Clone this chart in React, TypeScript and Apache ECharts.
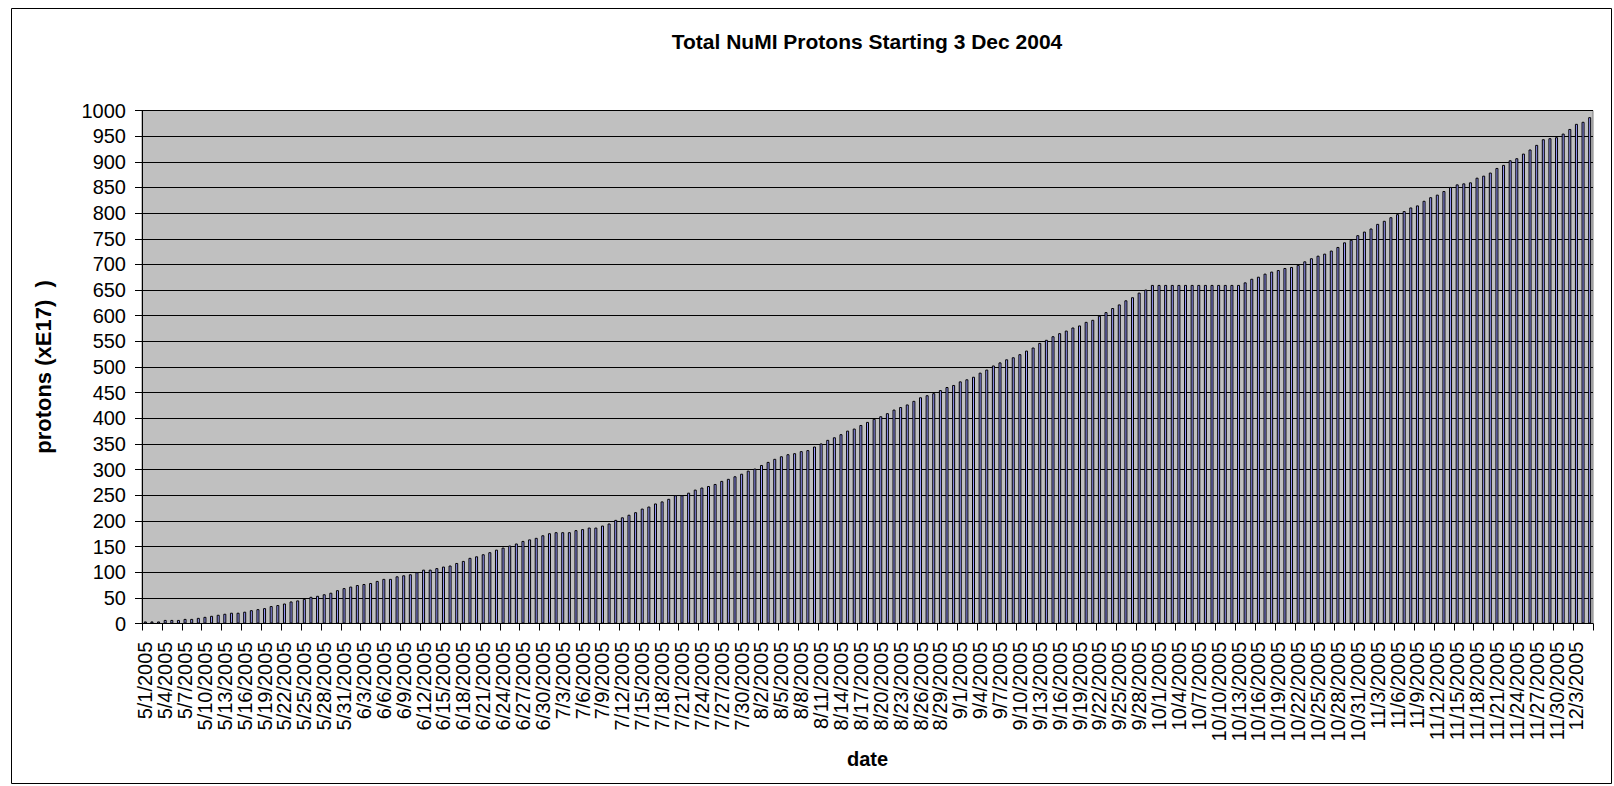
import React, { useEffect, useRef } from "react";
import * as echarts from "echarts";

const START_YEAR = 2005;
const START_MONTH = 5; // May
const START_DAY = 1;
const DAY_COUNT = 219;

const values: number[] = [
  4, 4, 4, 7, 7, 7, 9, 9, 11, 13,
  15, 17, 19, 21, 21, 23, 26, 28, 30, 34,
  36, 39, 43, 45, 48, 52, 54, 57, 60, 65,
  69, 72, 75, 77, 79, 83, 87, 87, 92, 94,
  96, 100, 105, 105, 108, 111, 113, 118, 122, 128,
  131, 135, 139, 144, 148, 152, 156, 161, 164, 167,
  172, 176, 178, 178, 178, 182, 184, 187, 187, 191,
  195, 202, 207, 212, 217, 224, 228, 234, 238, 243,
  250, 250, 255, 261, 265, 268, 272, 278, 282, 287,
  292, 298, 302, 309, 315, 321, 326, 330, 332, 336,
  338, 345, 351, 358, 363, 369, 376, 380, 387, 393,
  399, 404, 410, 417, 422, 427, 434, 441, 445, 449,
  455, 461, 465, 472, 476, 481, 489, 495, 503, 509,
  515, 519, 525, 532, 538, 547, 553, 560, 566, 571,
  577, 581, 588, 592, 600, 607, 615, 622, 630, 636,
  645, 651, 660, 660, 660, 660, 660, 660, 660, 660,
  660, 660, 660, 660, 660, 660, 665, 672, 676, 682,
  686, 689, 693, 695, 699, 706, 712, 717, 721, 727,
  734, 743, 748, 757, 764, 770, 779, 785, 792, 798,
  804, 811, 815, 824, 831, 836, 843, 851, 856, 858,
  860, 869, 873, 879, 888, 894, 903, 907, 916, 924,
  933, 944, 946, 948, 955, 964, 974, 978, 987,
];

function buildDates(): string[] {
  const out: string[] = [];
  const t0 = Date.UTC(START_YEAR, START_MONTH - 1, START_DAY);
  for (let i = 0; i < DAY_COUNT; i++) {
    const d = new Date(t0 + i * 86400000);
    out.push(`${d.getUTCMonth() + 1}/${d.getUTCDate()}/${d.getUTCFullYear()}`);
  }
  return out;
}

const dates = buildDates();

const TITLE = "Total NuMI Protons Starting 3 Dec 2004";
const Y_NAME = "protons (xE17)  )";
const X_NAME = "date";
const FONT = "'Liberation Sans', Arial, sans-serif";

export default function App() {
  const ref = useRef<HTMLDivElement>(null);

  useEffect(() => {
    document.body.style.margin = "0";
    if (!ref.current) return;
    const chart = echarts.init(ref.current, undefined, { renderer: "svg" });
    chart.setOption({
      animation: false,
      backgroundColor: "#ffffff",
      textStyle: { fontFamily: FONT },
      graphic: [
        {
          type: "rect",
          shape: { x: 11.5, y: 8.5, width: 1600, height: 775 },
          style: { fill: "none", stroke: "#000", lineWidth: 1 },
          silent: true,
        },
        {
          type: "text",
          x: 867,
          y: 41,
          style: {
            text: TITLE,
            fontFamily: FONT,
            fontSize: 21,
            fontWeight: "bold",
            fill: "#000",
            align: "center",
            verticalAlign: "middle",
          },
        },
      ],
      grid: {
        left: 142,
        top: 110.5,
        width: 1451,
        height: 513,
        show: true,
        backgroundColor: "#C0C0C0",
        borderColor: "#808080",
        borderWidth: 1,
        containLabel: false,
      },
      xAxis: {
        type: "category",
        data: dates,
        name: X_NAME,
        nameLocation: "middle",
        nameGap: 125,
        nameTextStyle: { fontFamily: FONT, fontSize: 20, fontWeight: "bold", color: "#000" },
        axisLine: { show: true, lineStyle: { color: "#000", width: 1 } },
        axisTick: { show: true, interval: 2, length: 7, lineStyle: { color: "#000" } },
        axisLabel: {
          interval: 2,
          rotate: 90,
          fontSize: 20,
          fontFamily: FONT,
          color: "#000",
          margin: 18,
        },
        splitLine: { show: false },
      },
      yAxis: {
        type: "value",
        min: 0,
        max: 1000,
        interval: 50,
        name: Y_NAME,
        nameLocation: "middle",
        nameGap: 88,
        nameTextStyle: { fontFamily: FONT, fontSize: 22, fontWeight: "bold", color: "#000" },
        axisLine: { show: true, lineStyle: { color: "#000", width: 1 } },
        axisTick: { show: true, length: 7, lineStyle: { color: "#000" } },
        axisLabel: {
          fontSize: 20,
          fontFamily: FONT,
          color: "#000",
          margin: 16,
          formatter: (v: number) => String(v),
        },
        splitLine: { show: true, lineStyle: { color: "#000", width: 1 } },
      },
      series: [
        {
          type: "bar",
          data: values,
          barWidth: 3,
          itemStyle: { color: "#9999FF", borderColor: "#000", borderWidth: 1 },
        },
      ],
    });
    return () => chart.dispose();
  }, []);

  return <div ref={ref} style={{ width: "1614px", height: "786px" }} />;
}
